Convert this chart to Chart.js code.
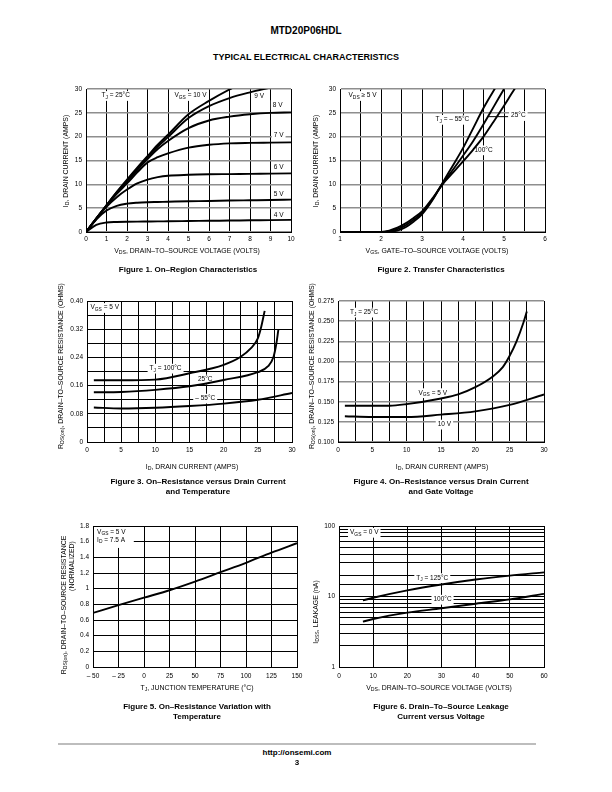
<!DOCTYPE html>
<html>
<head>
<meta charset="utf-8">
<script src="https://cdn.jsdelivr.net/npm/chart.js@4.4.0/dist/chart.umd.min.js"></script>
<style>
  body { margin: 0; width: 612px; height: 792px; position: relative; background: #fff; color: #000;
         font-family: "Liberation Sans", Arial, sans-serif; }
  .t { position: absolute; white-space: nowrap; transform: translate(-50%, -50%); line-height: 1; }
  .r { transform: translate(-50%, -50%) rotate(-90deg); }
  .ax { font-size: 6.9px; }
  .cap { font-size: 8px; font-weight: bold; line-height: 10px; text-align: center; }
  sub { font-size: 75%; vertical-align: -0.3em; line-height: 0; }
  canvas { position: absolute; }
  #rule { position: absolute; left: 58px; top: 743px; width: 478px; height: 2px; background: #bdbdbd; }
</style>
</head>
<body>
<div class="t" style="left:306px;top:31px;font-size:10px;font-weight:bold">MTD20P06HDL</div>
<div class="t" style="left:306px;top:57px;font-size:9px;font-weight:bold">TYPICAL ELECTRICAL CHARACTERISTICS</div>

<canvas id="fig1"></canvas>
<canvas id="fig2"></canvas>
<canvas id="fig3"></canvas>
<canvas id="fig4"></canvas>
<canvas id="fig5"></canvas>
<canvas id="fig6"></canvas>

<!-- axis titles -->
<div class="t r ax" style="left:66px;top:161px">I<sub>D</sub>, DRAIN CURRENT (AMPS)</div>
<div class="t ax" style="left:187px;top:251px">V<sub>DS</sub>, DRAIN–TO–SOURCE VOLTAGE (VOLTS)</div>
<div class="t r ax" style="left:316px;top:161px">I<sub>D</sub>, DRAIN CURRENT (AMPS)</div>
<div class="t ax" style="left:437px;top:251px">V<sub>GS</sub>, GATE–TO–SOURCE VOLTAGE (VOLTS)</div>
<div class="t r ax" style="left:61px;top:366px">R<sub>DS(on)</sub>, DRAIN–TO–SOURCE RESISTANCE (OHMS)</div>
<div class="t ax" style="left:192px;top:467px">I<sub>D</sub>, DRAIN CURRENT (AMPS)</div>
<div class="t r ax" style="left:312px;top:366px">R<sub>DS(on)</sub>, DRAIN–TO–SOURCE RESISTANCE (OHMS)</div>
<div class="t ax" style="left:442px;top:467px">I<sub>D</sub>, DRAIN CURRENT (AMPS)</div>
<div class="t r ax" style="left:64px;top:605px">R<sub>DS(on)</sub>, DRAIN–TO–SOURCE RESISTANCE</div>
<div class="t r ax" style="left:72px;top:566px">(NORMALIZED)</div>
<div class="t ax" style="left:197px;top:688px">T<sub>J</sub>, JUNCTION TEMPERATURE (°C)</div>
<div class="t r ax" style="left:316px;top:612px">I<sub>DSS</sub>, LEAKAGE (nA)</div>
<div class="t ax" style="left:439px;top:688px">V<sub>DS</sub>, DRAIN–TO–SOURCE VOLTAGE (VOLTS)</div>

<!-- captions -->
<div class="t cap" style="left:188px;top:270px">Figure 1. On–Region Characteristics</div>
<div class="t cap" style="left:441px;top:270px">Figure 2. Transfer Characteristics</div>
<div class="t cap" style="left:198px;top:487px">Figure 3. On–Resistance versus Drain Current<br>and Temperature</div>
<div class="t cap" style="left:441px;top:487px">Figure 4. On–Resistance versus Drain Current<br>and Gate Voltage</div>
<div class="t cap" style="left:197px;top:712px">Figure 5. On–Resistance Variation with<br>Temperature</div>
<div class="t cap" style="left:441px;top:712px">Figure 6. Drain–To–Source Leakage<br>Current versus Voltage</div>

<div id="rule"></div>
<div class="t" style="left:297px;top:753px;font-size:8px;font-weight:bold">http://onsemi.com</div>
<div class="t" style="left:297px;top:763px;font-size:8px;font-weight:bold">3</div>

<script>
// Figure 1: on-region characteristics (ID vs VDS for each VGS)
const fig1Vds = [0, 0.5, 1, 1.5, 2, 2.5, 3, 3.5, 4, 5, 6, 7, 8, 9, 10];
const fig1Id4V = [0, 1.5, 2.0, 2.1, 2.15, 2.18, 2.2, 2.22, 2.25, 2.3, 2.35, 2.4, 2.45, 2.5, 2.55];
const fig1Id5V = [0, 2.6, 4.5, 5.5, 5.95, 6.15, 6.25, 6.3, 6.35, 6.45, 6.5, 6.6, 6.65, 6.7, 6.8];
const fig1Id6V = [0, 2.8, 5.3, 7.3, 8.9, 10.2, 11.0, 11.5, 11.8, 12.0, 12.1, 12.15, 12.2, 12.25, 12.3];
const fig1Id7V = [0, 2.8, 5.5, 8.0, 10.2, 12.5, 14.6, 15.7, 16.5, 17.7, 18.3, 18.6, 18.7, 18.75, 18.8];
const fig1Id8V = [0, 2.8, 5.6, 8.2, 10.6, 13.0, 15.3, 17.4, 19.1, 21.8, 23.4, 24.2, 24.7, 25.0, 25.1];
const fig1Id9V = [0, 2.8, 5.6, 8.3, 10.8, 13.3, 15.7, 17.9, 19.9, 23.9, 26.4, 28.1, 29.3, 30.3, null];
const fig1Id10V = [0, 2.8, 5.6, 8.4, 11.0, 13.5, 15.9, 18.3, 20.4, 24.7, 27.5, 29.9, 32.0, null, null];

// Figure 2: transfer characteristics
const fig2Vgs = [1, 2, 2.2, 2.4, 2.6, 2.8, 3, 3.25, 3.5, 3.75, 4, 4.25, 4.5, 4.75, 5, 5.25, 5.5];
const fig2IdM55 = [0, 0, 0.05, 0.3, 1.0, 2.2, 3.7, 6.6, 10.3, 13.9, 17.6, 21.8, 26.0, 29.7, 33.0, null, null];
const fig2Id25 = [0, 0, 0.15, 0.6, 1.4, 2.6, 4.0, 6.8, 10.1, 13.0, 16.0, 19.1, 22.6, 26.3, 30.0, null, null];
const fig2Id100 = [0, 0.02, 0.3, 0.9, 1.8, 3.0, 4.3, 7.0, 10.0, 12.4, 14.8, 17.3, 20.0, 23.2, 26.5, 29.9, 33.0];

// Figure 3: on-resistance vs drain current and temperature
const fig3Id100 = [1, 5, 10, 15, 20, 22.5, 24, 25, 25.5, 26];
const fig3R100 = [0.175, 0.175, 0.177, 0.195, 0.219, 0.242, 0.266, 0.294, 0.327, 0.372];
const fig3Id25 = [1, 5, 10, 15, 20, 25, 26.5, 27.3, 27.7, 28];
const fig3R25 = [0.141, 0.142, 0.148, 0.158, 0.176, 0.198, 0.215, 0.242, 0.278, 0.318];
const fig3IdM55 = [1, 5, 10, 15, 20, 25, 30];
const fig3RM55 = [0.098, 0.095, 0.097, 0.102, 0.109, 0.12, 0.139];

// Figure 4: on-resistance vs drain current and gate voltage
const fig4Id5V = [1, 5, 7.5, 10, 15, 17.5, 20, 22.5, 24, 25, 26, 27, 27.5];
const fig4R5V = [0.145, 0.145, 0.145, 0.147, 0.154, 0.159, 0.168, 0.181, 0.193, 0.207, 0.225, 0.248, 0.262];
const fig4Id10V = [1, 5, 10, 15, 20, 25, 30];
const fig4R10V = [0.132, 0.131, 0.131, 0.134, 0.138, 0.146, 0.159];

// Figure 5: normalized on-resistance vs temperature
const fig5Tj = [-50, -25, 0, 25, 50, 75, 100, 125, 150];
const fig5Rnorm = [0.69, 0.79, 0.885, 0.98, 1.09, 1.21, 1.33, 1.46, 1.58];

// Figure 6: drain-to-source leakage vs voltage
const fig6Vds = [7, 10, 20, 30, 40, 50, 60];
const fig6Idss125 = [8.8, 9.6, 12.2, 14.8, 17.4, 19.8, 22];
const fig6Idss100 = [4.4, 4.8, 5.9, 6.8, 7.9, 9.1, 10.9];

const FAM = '"Liberation Sans", Arial, sans-serif';
const FS = 6.5;

function curve(xs, ys) {
  return {
    data: xs.map((x, i) => ({ x: x, y: ys[i] })),
    borderColor: '#000', borderWidth: 1.9, pointRadius: 0,
    cubicInterpolationMode: 'monotone', fill: false, clip: 0
  };
}

// text with _{sub} parts, optional white box behind
function drawLabel(ctx, text, x, y, align) {
  const parts = text.split(/(_\{[^}]*\})/).filter(s => s).map(s =>
    s.startsWith('_{') ? { t: s.slice(2, -1), sub: true } : { t: s, sub: false });
  let w = 0;
  parts.forEach(p => {
    ctx.font = (p.sub ? FS * 0.75 : FS) + 'px ' + FAM;
    p.w = ctx.measureText(p.t).width;
    w += p.w;
  });
  let x0 = align === 'left' ? x : x - w / 2;
  ctx.fillStyle = '#fff';
  ctx.fillRect(x0 - 2, y - FS * 0.7, w + 4, FS * 1.5);
  ctx.fillStyle = '#000';
  ctx.textAlign = 'left';
  ctx.textBaseline = 'middle';
  parts.forEach(p => {
    ctx.font = (p.sub ? FS * 0.75 : FS) + 'px ' + FAM;
    ctx.fillText(p.t, x0, p.sub ? y + FS * 0.3 : y);
    x0 += p.w;
  });
}

function notesPlugin(items) {
  return {
    id: 'notes',
    beforeDatasetsDraw(chart) {
      const ctx = chart.ctx, sx = chart.scales.x, sy = chart.scales.y;
      ctx.save();
      items.forEach(it => {
        if (it.box) {
          const x0 = sx.getPixelForValue(it.box[0]) + 1, y0 = sy.getPixelForValue(it.box[3]) + 1;
          const x1 = sx.getPixelForValue(it.box[2]), y1 = sy.getPixelForValue(it.box[1]);
          ctx.fillStyle = '#fff';
          ctx.fillRect(x0, y0, x1 - x0, y1 - y0);
        } else if (it.line) {
          ctx.strokeStyle = '#000';
          ctx.lineWidth = 1;
          ctx.beginPath();
          ctx.moveTo(sx.getPixelForValue(it.line[0]), sy.getPixelForValue(it.line[1]));
          ctx.lineTo(sx.getPixelForValue(it.line[2]), sy.getPixelForValue(it.line[3]));
          ctx.stroke();
        } else {
          drawLabel(ctx, it.text, sx.getPixelForValue(it.x), sy.getPixelForValue(it.y), it.align);
        }
      });
      ctx.restore();
    }
  };
}

function axis(o, horiz) {
  return {
    type: o.type || 'linear',
    position: horiz ? 'bottom' : 'left',
    min: o.min, max: o.max,
    grid: { color: o.gridColor || '#000', lineWidth: o.gridWidth || 1, drawTicks: false },
    border: { color: '#000', width: 1 },
    ticks: {
      stepSize: o.step, autoSkip: false, maxRotation: 0, color: '#000',
      padding: o.pad, font: { family: FAM, size: FS },
      callback: o.label || (v => String(v))
    },
    afterFit(s) {
      if (horiz) s.height = 45; else s.width = 60;
      s.paddingLeft = 0; s.paddingRight = 0; s.paddingTop = 0; s.paddingBottom = 0;
    }
  };
}

function makeChart(id, box, datasets, xo, yo, notes) {
  const cv = document.getElementById(id);
  const W = box.R - box.L + 75, H = box.B - box.T + 60;
  cv.width = W; cv.height = H;
  cv.style.width = W + 'px'; cv.style.height = H + 'px';
  cv.style.left = (box.L - 60) + 'px'; cv.style.top = (box.T - 15) + 'px';
  new Chart(cv, {
    type: 'line',
    data: { datasets: datasets },
    options: {
      responsive: false, animation: false, devicePixelRatio: 1,
      layout: { padding: { left: 0, top: 15, right: 15, bottom: 0 } },
      plugins: { legend: { display: false }, tooltip: { enabled: false } },
      scales: { x: axis(xo, true), y: axis(yo, false) }
    },
    plugins: [notesPlugin(notes)]
  });
}

const GRAY = '#8e8e8e';
const isMult = (v, m) => Math.abs(v / m - Math.round(v / m)) < 1e-6;

makeChart('fig1', { L: 86, T: 89, R: 291, B: 232 },
  [fig1Id4V, fig1Id5V, fig1Id6V, fig1Id7V, fig1Id8V, fig1Id9V, fig1Id10V].map(ys => curve(fig1Vds, ys)),
  { min: 0, max: 10, step: 1, pad: 3 },
  { min: 0, max: 30, step: 5, pad: 4, gridColor: GRAY, gridWidth: 1.5 },
  [
    { text: 'T_{J} = 25°C', x: 1.45, y: 28.6 },
    { text: 'V_{GS} = 10 V', x: 5.1, y: 28.6 },
    { text: '9 V', x: 8.45, y: 28.4 },
    { text: '8 V', x: 9.35, y: 26.7 },
    { text: '7 V', x: 9.4, y: 20.4 },
    { text: '6 V', x: 9.4, y: 13.6 },
    { text: '5 V', x: 9.4, y: 7.9 },
    { text: '4 V', x: 9.4, y: 3.5 }
  ]);

makeChart('fig2', { L: 340, T: 89, R: 545, B: 232 },
  [fig2IdM55, fig2Id25, fig2Id100].map(ys => curve(fig2Vgs, ys)),
  { min: 1, max: 6, step: 0.5, pad: 3, label: v => isMult(v, 1) ? String(Math.round(v)) : '' },
  { min: 0, max: 30, step: 5, pad: 4, gridColor: GRAY, gridWidth: 1.5 },
  [
    { text: 'V_{DS} ≥ 5 V', x: 1.55, y: 28.6 },
    { text: 'T_{J} = – 55°C', x: 3.74, y: 23.6 },
    { line: [4.6, 24.2, 5.1, 24.2] },
    { text: '25°C', x: 5.35, y: 24.4 },
    { text: '100°C', x: 4.5, y: 17.2 }
  ]);

makeChart('fig3', { L: 87, T: 301, R: 292, B: 442 },
  [curve(fig3Id100, fig3R100), curve(fig3Id25, fig3R25), curve(fig3IdM55, fig3RM55)],
  { min: 0, max: 30, step: 2.5, pad: 4.5, label: v => isMult(v, 5) ? String(Math.round(v)) : '' },
  { min: 0, max: 0.4, step: 0.04, pad: 4,
    label: v => { const k = Math.round(v / 0.04); return k % 2 ? '' : (k === 0 ? '0' : v.toFixed(2)); } },
  [
    { text: 'V_{GS} = 5 V', x: 2.6, y: 0.381 },
    { text: 'T_{J} = 100°C', x: 11.5, y: 0.209 },
    { text: '25°C', x: 17.3, y: 0.178 },
    { text: '– 55°C', x: 17.3, y: 0.124 }
  ]);

makeChart('fig4', { L: 338, T: 301, R: 544, B: 442 },
  [curve(fig4Id5V, fig4R5V), curve(fig4Id10V, fig4R10V)],
  { min: 0, max: 30, step: 2.5, pad: 4.5, label: v => isMult(v, 5) ? String(Math.round(v)) : '' },
  { min: 0.1, max: 0.275, step: 0.025, pad: 4, gridColor: GRAY, gridWidth: 1.5, label: v => v.toFixed(3) },
  [
    { text: 'T_{J} = 25°C', x: 3.8, y: 0.261 },
    { text: 'V_{GS} = 5 V', x: 13.8, y: 0.161 },
    { text: '10 V', x: 15.5, y: 0.122 }
  ]);

makeChart('fig5', { L: 93, T: 526, R: 297, B: 667 },
  [curve(fig5Tj, fig5Rnorm)],
  { min: -50, max: 150, step: 25, pad: 5.5, label: v => v < 0 ? '– ' + (-v) : String(v) },
  { min: 0, max: 1.8, step: 0.2, pad: 4, label: v => v === 0 ? '0' : String(+v.toFixed(1)) },
  [
    { box: [-50, 1.52, -10, 1.8] },
    { text: 'V_{GS} = 5 V', x: -46, y: 1.727, align: 'left' },
    { text: 'I_{D} = 7.5 A', x: -46, y: 1.62, align: 'left' }
  ]);

makeChart('fig6', { L: 339, T: 526, R: 544, B: 667 },
  [curve(fig6Vds, fig6Idss125), curve(fig6Vds, fig6Idss100)],
  { min: 0, max: 60, step: 10, pad: 5.5 },
  { type: 'logarithmic', min: 1, max: 100, pad: 4, label: v => [1, 10, 100].includes(v) ? String(v) : '' },
  [
    { text: 'V_{GS} = 0 V', x: 7.4, y: 81 },
    { text: 'T_{J} = 125°C', x: 27.3, y: 18.4 },
    { text: '100°C', x: 30.3, y: 9.1 }
  ]);
</script>
</body>
</html>
